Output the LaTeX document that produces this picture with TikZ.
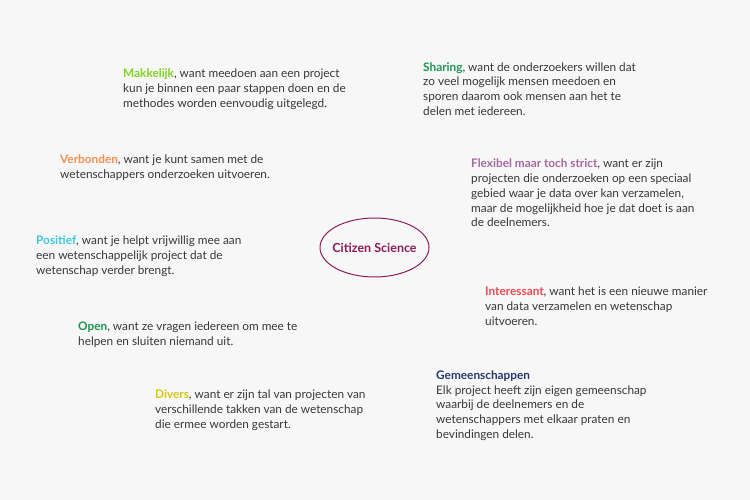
\documentclass[tikz,border=0pt]{standalone}
\usepackage{fontspec}
\setmainfont{Lato}
\definecolor{bg}{HTML}{F7F7F7}
\definecolor{txt}{HTML}{383838}
\definecolor{cMak}{HTML}{7ED321}
\definecolor{cVer}{HTML}{F58F50}
\definecolor{cPos}{HTML}{3CC8DC}
\definecolor{cOpen}{HTML}{1E9650}
\definecolor{cDiv}{HTML}{D2C814}
\definecolor{cSha}{HTML}{1E9650}
\definecolor{cFle}{HTML}{A66AA2}
\definecolor{cInt}{HTML}{F04650}
\definecolor{cGem}{HTML}{27386E}
\definecolor{cCit}{HTML}{8C1C5A}
\begin{document}
\begin{tikzpicture}[x=1pt,y=1pt,
  desc/.style={anchor=base west,inner sep=0pt,align=left,text=txt,
    font=\fontsize{11.8}{14.8}\selectfont},
  center/.style={inner sep=0pt,text=cCit,font=\fontsize{12.5}{14}\selectfont\bfseries},
  ring/.style={draw=cCit,line width=1pt}]
\fill[bg] (0,0) rectangle (750,500);
\useasboundingbox (0,0) rectangle (750,500);
\node[center] (cs) at (374.5,252.5) {Citizen Science};
\draw[ring] (cs.center) ellipse [x radius=54.5, y radius=29.5];
\node[desc] (mak) at (123,392.5) {\textbf{\color{cMak}Makkelijk}, want meedoen aan een project\\kun je binnen een paar stappen doen en de\\methodes worden eenvoudig uitgelegd.};
\node[desc] (sha) at (423,384.5) {\textbf{\color{cSha}Sharing}, want de onderzoekers willen dat\\zo veel mogelijk mensen meedoen en\\sporen daarom ook mensen aan het te\\delen met iedereen.};
\node[desc] (ver) at (60,321.5) {\textbf{\color{cVer}Verbonden}, want je kunt samen met de\\wetenschappers onderzoeken uitvoeren.};
\node[desc] (fle) at (471,273) {\textbf{\color{cFle}Flexibel maar toch strict}, want er zijn\\projecten die onderzoeken op een speciaal\\gebied waar je data over kan verzamelen,\\maar de mogelijkheid hoe je dat doet is aan\\de deelnemers.};
\node[desc] (pos) at (36,225.5) {\textbf{\color{cPos}Positief}, want je helpt vrijwillig mee aan\\een wetenschappelijk project dat de\\wetenschap verder brengt.};
\node[desc] (int) at (485,174.5) {\textbf{\color{cInt}Interessant}, want het is een nieuwe manier\\van data verzamelen en wetenschap\\uitvoeren.};
\node[desc] (open) at (78,154.5) {\textbf{\color{cOpen}Open}, want ze vragen iedereen om mee te\\helpen en sluiten niemand uit.};
\node[desc] (div) at (155,71.5) {\textbf{\color{cDiv}Divers}, want er zijn tal van projecten van\\verschillende takken van de wetenschap\\die ermee worden gestart.};
\node[desc] (gem) at (436,61.5) {\textbf{\color{cGem}Gemeenschappen}\\Elk project heeft zijn eigen gemeenschap\\waarbij de deelnemers en de\\wetenschappers met elkaar praten en\\bevindingen delen.};
\end{tikzpicture}
\end{document}
